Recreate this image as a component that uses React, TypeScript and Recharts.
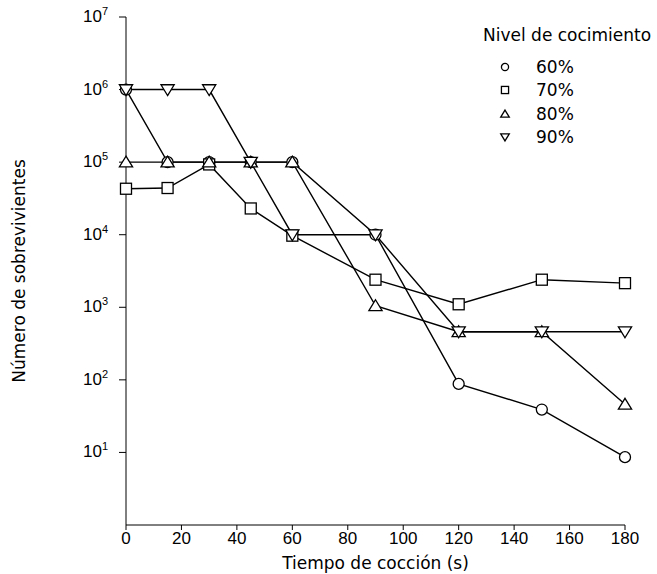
import { LineChart, Line, XAxis, YAxis } from "recharts";

const tiempos = [0, 15, 30, 45, 60, 90, 120, 150, 180];
const nivel60 = [1000000, 100000, 100000, 100000, 100000, 10000, 88, 39, 8.6];
const nivel70 = [43000, 44000, 93000, 23000, 9700, 2400, 1100, 2400, 2150];
const nivel80 = [100000, 100000, 100000, 100000, 100000, 1050, 460, 460, 46];
const nivel90 = [1000000, 1000000, 1000000, 100000, 10000, 10000, 460, 460, 460];

const xTicks = [0, 20, 40, 60, 80, 100, 120, 140, 160, 180];
const yTicks = [10, 100, 1000, 10000, 100000, 1000000, 10000000];

const data = tiempos.map((t, i) => ({
  t,
  n60: nivel60[i],
  n70: nivel70[i],
  n80: nivel80[i],
  n90: nivel90[i],
}));

const FONT = "'Liberation Sans', Arial, sans-serif";
const WIDE = "'DejaVu Sans', sans-serif";

function Marker({ kind, cx, cy, s = 1 }: { kind: string; cx: number; cy: number; s?: number }) {
  const common = { fill: "#fff", stroke: "#000", strokeWidth: 1.3 };
  if (kind === "circle") return <circle cx={cx} cy={cy} r={5.5 * s} {...common} />;
  if (kind === "square")
    return <rect x={cx - 5.5 * s} y={cy - 5.5 * s} width={11 * s} height={11 * s} {...common} />;
  const h = 6 * s;
  if (kind === "up")
    return <path d={`M${cx},${cy - h} L${cx + h * 1.1},${cy + h * 0.8} L${cx - h * 1.1},${cy + h * 0.8} Z`} {...common} />;
  return <path d={`M${cx},${cy + h} L${cx + h * 1.1},${cy - h * 0.8} L${cx - h * 1.1},${cy - h * 0.8} Z`} {...common} />;
}

const series = [
  { key: "n60", name: "60%", kind: "circle" },
  { key: "n70", name: "70%", kind: "square" },
  { key: "n80", name: "80%", kind: "up" },
  { key: "n90", name: "90%", kind: "down" },
];

function YTick({ x, y, payload }: any) {
  const exp = String(Math.round(Math.log10(payload.value)));
  return (
    <text x={x - 9} y={y + 5} textAnchor="end" fontFamily={FONT} fontSize={17} fill="#000">
      <tspan>10</tspan>
      <tspan dy={-7} fontSize={11}>{exp}</tspan>
    </text>
  );
}

function LegendBox() {
  return (
    <div style={{ position: "absolute", left: 483, top: 24, fontFamily: WIDE, color: "#000" }}>
      <div style={{ fontSize: 17, height: 31, lineHeight: "22px" }}>Nivel de cocimiento</div>
      {series.map((s) => (
        <div key={s.key} style={{ display: "flex", alignItems: "center", height: 23.5, fontSize: 17 }}>
          <svg width={53} height={20}>
            <Marker kind={s.kind} cx={22} cy={10} s={0.65} />
          </svg>
          <span>{s.name}</span>
        </div>
      ))}
    </div>
  );
}

export default function App() {
  return (
    <div style={{ position: "absolute", left: 0, top: 0, width: 657, height: 574, background: "#fff" }}>
      <LineChart width={657} height={574} data={data} margin={{ top: 17, right: 32, bottom: 0, left: 0 }}>
        <XAxis
          dataKey="t"
          type="number"
          domain={[0, 180]}
          ticks={xTicks}
          height={49}
          stroke="#000"
          tickSize={5}
          tick={{ fill: "#000", fontSize: 17, fontFamily: FONT }}
          label={{
            content: ({ viewBox }: any) => (
              <text
                x={viewBox.x + viewBox.width / 2}
                y={viewBox.y + 44}
                textAnchor="middle"
                fontFamily={WIDE}
                fontSize={17}
                fill="#000"
              >
                Tiempo de cocción (s)
              </text>
            ),
          }}
        />
        <YAxis
          scale="log"
          domain={[1, 10000000]}
          ticks={yTicks}
          allowDataOverflow
          width={126}
          stroke="#000"
          tickSize={7}
          tick={<YTick />}
          label={{
            content: ({ viewBox }: any) => (
              <text
                x={viewBox.x + 25}
                y={viewBox.y + viewBox.height / 2}
                transform={`rotate(-90 ${viewBox.x + 25} ${viewBox.y + viewBox.height / 2})`}
                textAnchor="middle"
                fontFamily={WIDE}
                fontSize={17}
                fill="#000"
              >
                Número de sobrevivientes
              </text>
            ),
          }}
        />
        {series.map((s) => (
          <Line
            key={s.key}
            dataKey={s.key}
            name={s.name}
            stroke="#000"
            strokeWidth={1.4}
            isAnimationActive={false}
            dot={(p: any) => <Marker key={`${s.key}-${p.index}`} kind={s.kind} cx={p.cx} cy={p.cy} />}
            activeDot={false}
          />
        ))}
      </LineChart>
      <LegendBox />
    </div>
  );
}
